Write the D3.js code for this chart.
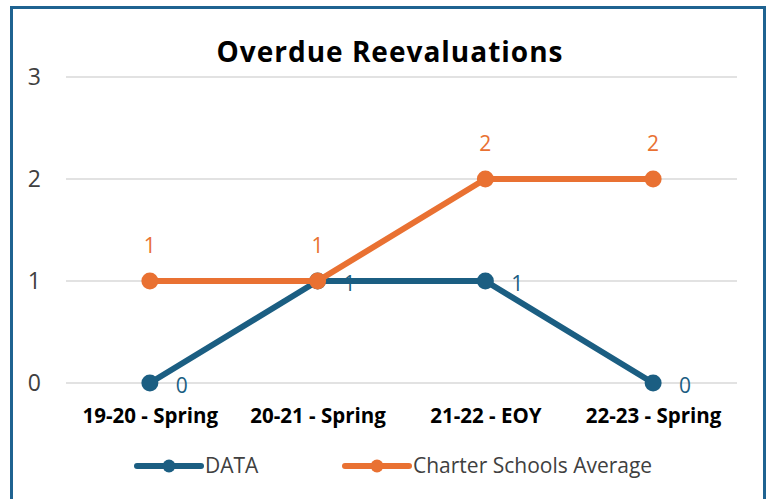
<!DOCTYPE html>
<html lang="en">
<head>
    <meta charset="UTF-8">
    <title>Overdue Reevaluations</title>
    <script src="https://cdnjs.cloudflare.com/ajax/libs/d3/7.8.5/d3.min.js"></script>
    <style>
        body {
            margin: 0;
            padding: 0;
            background-color: white;
            font-family: "Open Sans", "Liberation Sans", Arial, sans-serif;
        }
    </style>
</head>
<body>
    <div id="chart"></div>

    <script>
        // Chart data
        const categories = ['19-20 - Spring', '20-21 - Spring', '21-22 - EOY', '22-23 - Spring'];
        const dataValues = [0, 1, 1, 0];
        const charterValues = [1, 1, 2, 2];
        const yTicks = [0, 1, 2, 3];

        const series = [
            { name: 'DATA', values: dataValues, color: '#1B5E82', labelPos: 'right' },
            { name: 'Charter Schools Average', values: charterValues, color: '#E97132', labelPos: 'above' }
        ];

        const width = 769;
        const height = 499;
        const fontStack = '"Open Sans", "Liberation Sans", Arial, sans-serif';

        const svg = d3.select('#chart')
            .append('svg')
            .attr('width', width)
            .attr('height', height);

        // Frame
        svg.append('rect')
            .attr('x', 11.5)
            .attr('y', 7.5)
            .attr('width', 753)
            .attr('height', 500)
            .attr('fill', 'white')
            .attr('stroke', '#1F6391')
            .attr('stroke-width', 3);

        // Title
        svg.append('text')
            .attr('x', 390)
            .attr('y', 62)
            .attr('text-anchor', 'middle')
            .style('font-size', '28px')
            .style('font-weight', 'bold')
            .style('letter-spacing', '1px')
            .style('fill', '#000')
            .text('Overdue Reevaluations');

        // Scales
        const x = d3.scalePoint()
            .domain(categories)
            .range([66, 737])
            .padding(0.5);

        const y = d3.scaleLinear()
            .domain([0, 3])
            .range([383, 77]);

        // Gridlines
        svg.append('g')
            .selectAll('line')
            .data(yTicks)
            .enter().append('line')
            .attr('x1', 66)
            .attr('x2', 737)
            .attr('y1', d => y(d))
            .attr('y2', d => y(d))
            .attr('stroke', '#d9d9d9')
            .attr('stroke-width', 1.5);

        // Y axis
        const yAxis = svg.append('g')
            .attr('transform', 'translate(41,0)')
            .call(d3.axisLeft(y).tickValues(yTicks).tickSize(0).tickPadding(0).tickFormat(d3.format('d')));
        yAxis.select('.domain').remove();
        yAxis.selectAll('text')
            .style('font-size', '23px')
            .style('font-family', fontStack)
            .attr('fill', '#404040');

        // X axis
        const xAxis = svg.append('g')
            .attr('transform', 'translate(0,383)')
            .call(d3.axisBottom(x).tickSize(0).tickPadding(25));
        xAxis.select('.domain').remove();
        xAxis.selectAll('text')
            .style('font-size', '20.5px')
            .style('font-weight', 'bold')
            .style('font-family', fontStack)
            .attr('fill', '#000');

        const line = d3.line()
            .x((d, i) => x(categories[i]))
            .y(d => y(d));

        series.forEach(s => {
            const g = svg.append('g');
            g.append('path')
                .datum(s.values)
                .attr('d', line)
                .attr('fill', 'none')
                .attr('stroke', s.color)
                .attr('stroke-width', 6)
                .attr('stroke-linejoin', 'round');

            g.selectAll('circle')
                .data(s.values)
                .enter().append('circle')
                .attr('cx', (d, i) => x(categories[i]))
                .attr('cy', d => y(d))
                .attr('r', 8.5)
                .attr('fill', s.color);
        });

        // Data labels
        series.forEach(s => {
            svg.append('g')
                .selectAll('text')
                .data(s.values)
                .enter().append('text')
                .attr('x', (d, i) => x(categories[i]) + (s.labelPos === 'right' ? 32 : 0))
                .attr('y', d => y(d) + (s.labelPos === 'right' ? 10 : -28))
                .attr('text-anchor', 'middle')
                .style('font-size', '21px')
                .attr('fill', s.color)
                .text(d => d);
        });

        // Legend
        const legendItems = [
            { s: series[0], x0: 137 },
            { s: series[1], x0: 345 }
        ];
        const legend = svg.append('g');
        legendItems.forEach(item => {
            const ly = 466;
            legend.append('line')
                .attr('x1', item.x0)
                .attr('x2', item.x0 + 64)
                .attr('y1', ly)
                .attr('y2', ly)
                .attr('stroke', item.s.color)
                .attr('stroke-width', 6)
                .attr('stroke-linecap', 'round');
            legend.append('circle')
                .attr('cx', item.x0 + 32)
                .attr('cy', ly)
                .attr('r', 6.5)
                .attr('fill', item.s.color);
            legend.append('text')
                .attr('x', item.x0 + 68)
                .attr('y', ly + 7)
                .style('font-size', '21px')
                .attr('fill', '#404040')
                .text(item.s.name);
        });
    </script>
</body>
</html>
